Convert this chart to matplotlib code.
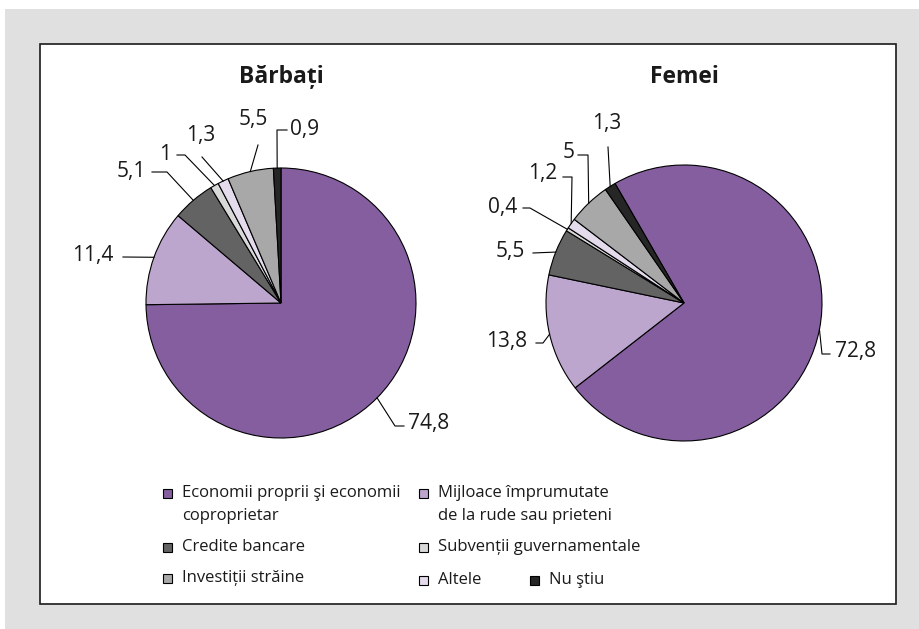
import numpy as np
import matplotlib.pyplot as plt
from matplotlib.patches import Rectangle

plt.rcParams['font.family'] = ['Open Sans', 'DejaVu Sans']

categories = ['Economii proprii şi economii\ncoproprietar',
              'Mijloace împrumutate\nde la rude sau prieteni',
              'Credite bancare',
              'Subvenții guvernamentale',
              'Altele',
              'Investiții străine',
              'Nu ştiu']
barbati = [74.8, 11.4, 5.1, 1.0, 1.3, 5.5, 0.9]
femei = [72.8, 13.8, 5.5, 0.4, 1.2, 5.0, 1.3]
barbati_labels = ['74,8', '11,4', '5,1', '1', '1,3', '5,5', '0,9']
femei_labels = ['72,8', '13,8', '5,5', '0,4', '1,2', '5', '1,3']
colors = ['#845e9e', '#bca6cd', '#636363', '#d9d9d9', '#e4dbec', '#a8a8a8', '#262626']

W, H = 919, 629

fig = plt.figure(figsize=(9.19, 6.29), dpi=100)
ax = fig.add_axes([0, 0, 1, 1])

# background frame (pixel coords, y measured from top)
ax.add_patch(Rectangle((5, 0), 914, H - 9, facecolor='#e0e0e0', edgecolor='none', zorder=0))
ax.add_patch(Rectangle((39.5, H - 603.5), 856, 560, facecolor='white', edgecolor='#1a1a1a',
                       linewidth=1.2, zorder=0.5))

# label layout: (text x, text y, ha, leader points after the anchor on the pie edge)
barbati_layout = [
    (408, 423, 'left', [(395, 426), (404, 426)]),
    (113, 256, 'right', [(123, 257)]),
    (146, 171, 'right', [(167, 172), (152, 172)]),
    (171, 155, 'right', [(185, 155), (177, 155)]),
    (201, 135, 'center', [(202, 157)]),
    (253, 119, 'center', [(258, 145)]),
    (290, 129, 'left', [(277, 130), (287, 130)]),
]
femei_layout = [
    (835, 351, 'left', [(822, 354), (830, 354)]),
    (527, 341, 'right', [(543, 343), (536, 343)]),
    (525, 252, 'right', [(533, 253)]),
    (517, 208, 'right', [(530, 208), (523, 208)]),
    (557, 174, 'right', [(572, 177), (563, 177)]),
    (575, 152, 'right', [(588, 155), (578, 155)]),
    (607, 123, 'center', [(608, 147)]),
]


def draw_pie(values, labels, layout, title, cx, cy, r, start):
    c = (cx, H - cy)
    ax.pie(values, colors=colors, startangle=start, counterclock=False,
           center=c, radius=r, frame=True,
           wedgeprops=dict(edgecolor='black', linewidth=0.8))
    total = sum(values)
    mids = np.cumsum(values) - np.array(values) / 2
    for frac, lab, (tx, ty, ha, pts) in zip(mids, labels, layout):
        ang = np.deg2rad(start - 360 * frac / total)
        xs = [c[0] + r * np.cos(ang)] + [p[0] for p in pts]
        ys = [c[1] + r * np.sin(ang)] + [H - p[1] for p in pts]
        ax.plot(xs, ys, color='black', linewidth=0.8, zorder=3)
        ax.text(tx, H - ty, lab, ha=ha, va='center', fontsize=15, color='#1a1a1a')
    ax.text(cx, H - 77, title, ha='center', va='center', fontsize=16.5, fontweight='bold',
            color='#1a1a1a')


draw_pie(barbati, barbati_labels, barbati_layout, 'Bărbați', 281, 303, 135, 90)
draw_pie(femei, femei_labels, femei_layout, 'Femei', 684, 303, 138, 120)

# legend
legend_pos = [(167, 493), (423, 493), (167, 547), (423, 547), (423, 580), (167, 578), (534, 580)]
for (sx, sy), col, name in zip(legend_pos, colors, categories):
    ax.add_patch(Rectangle((sx - 4.5, H - sy - 4.5), 9, 9, facecolor=col, edgecolor='black',
                           linewidth=0.8, zorder=3))
    for i, line in enumerate(name.split('\n')):
        ax.text(sx + 15, H - sy - i * 23, line, ha='left', va='center', fontsize=12,
                color='#1a1a1a')

ax.set_xlim(0, W)
ax.set_ylim(0, H)
ax.set_aspect('equal')
ax.axis('off')

fig.savefig('out.png', dpi=100, facecolor='white')
